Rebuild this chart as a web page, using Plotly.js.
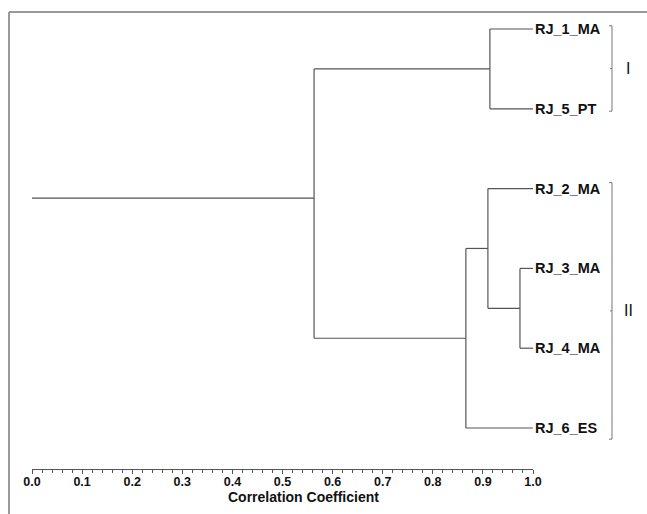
<!DOCTYPE html>
<html>
<head>
<meta charset="utf-8">
<script src="https://cdn.plot.ly/plotly-3.0.1.min.js"></script>
<style>
  html, body { margin: 0; padding: 0; background: #fff; }
  #chart { width: 647px; height: 514px; }
</style>
</head>
<body>
<div id="chart"></div>
<script>
// ---- data ----
const leafLabels = ['RJ_1_MA', 'RJ_5_PT', 'RJ_2_MA', 'RJ_3_MA', 'RJ_4_MA', 'RJ_6_ES'];
const leafOrder = [0, 1, 2, 3, 4, 5];
const leafSimilarity = 1.0;

const nodeNames  = ['n0', 'n1', 'n2', 'n3', 'n4'];
const nodeLeft   = ['RJ_3_MA', 'RJ_2_MA', 'RJ_1_MA', 'n1', 'n2'];
const nodeRight  = ['RJ_4_MA', 'n0', 'RJ_5_PT', 'RJ_6_ES', 'n3'];
const nodeHeight = [0.974, 0.910, 0.914, 0.866, 0.563];
const rootStemPos = 2.12;
const rootStemStart = 0.0;

const clusterNames = ['I', 'II'];
const clusterFirst = ['RJ_1_MA', 'RJ_2_MA'];
const clusterLast  = ['RJ_5_PT', 'RJ_6_ES'];

const xTickStep = 0.1;
const xMinorStep = 0.02;
const xTitle = 'Correlation Coefficient';

// ---- build dendrogram ----
const pos = {}, hgt = {};
leafLabels.forEach((l, i) => { pos[l] = leafOrder[i]; hgt[l] = leafSimilarity; });
const xs = [], ys = [];
nodeNames.forEach((n, i) => {
  const a = nodeLeft[i], b = nodeRight[i], h = nodeHeight[i];
  pos[n] = (pos[a] + pos[b]) / 2; hgt[n] = h;
  xs.push(h, h, null); ys.push(pos[a], pos[b], null);
  xs.push(h, hgt[a], null); ys.push(pos[a], pos[a], null);
  xs.push(h, hgt[b], null); ys.push(pos[b], pos[b], null);
});
const root = nodeNames[nodeNames.length - 1];
xs.push(rootStemStart, hgt[root], null); ys.push(rootStemPos, rootStemPos, null);

// ---- geometry (pixels) ----
const W = 647, H = 514, mL = 32, mR = 114, mB = 45;
const plotW = W - mL - mR, plotH = H - mB;
const px2paperX = p => (p - mL) / plotW;
const px2paperY = p => (plotH - p) / plotH;

const lineColor = '#555';
const FONT = 'Liberation Sans, Arial, sans-serif';
const shapes = [];
// frame
const fx = px2paperX(9), fy = px2paperY(12);
shapes.push({type: 'line', xref: 'paper', yref: 'paper', x0: fx, x1: fx, y0: fy, y1: px2paperY(H + 5), line: {color: '#999', width: 2}});
shapes.push({type: 'line', xref: 'paper', yref: 'paper', x0: fx, x1: px2paperX(W + 5), y0: fy, y1: fy, line: {color: '#999', width: 2}});

const annotations = [];
leafLabels.forEach((l, i) => {
  annotations.push({x: leafSimilarity, y: leafOrder[i], xref: 'x', yref: 'y', text: l, showarrow: false,
    xanchor: 'left', yanchor: 'middle', xshift: 0,
    font: {family: FONT, size: 14.5, color: '#111', weight: 'bold'}});
});

const bx = px2paperX(612), hook = 3 / plotW, nub = 2 / plotW;
const padTop = [0.04, 0.075], padBot = [0.03, 0.14];
clusterNames.forEach((c, i) => {
  const y0 = pos[clusterFirst[i]] - padTop[i], y1 = pos[clusterLast[i]] + padBot[i];
  const ym = (y0 + y1) / 2;
  const st = {color: '#777', width: 1};
  shapes.push({type: 'line', xref: 'paper', yref: 'y', x0: bx, x1: bx, y0: y0, y1: y1, line: st});
  shapes.push({type: 'line', xref: 'paper', yref: 'y', x0: bx - hook, x1: bx, y0: y0, y1: y0, line: st});
  shapes.push({type: 'line', xref: 'paper', yref: 'y', x0: bx - hook, x1: bx, y0: y1, y1: y1, line: st});
  shapes.push({type: 'line', xref: 'paper', yref: 'y', x0: bx - nub, x1: bx, y0: ym, y1: ym, line: st});
  annotations.push({x: px2paperX(628), y: ym, xref: 'paper', yref: 'y', text: c, showarrow: false,
    xanchor: 'center', yanchor: 'middle',
    font: {family: FONT, size: 16, color: '#111'}});
});

annotations.push({x: px2paperX(303), y: px2paperY(497), xref: 'paper', yref: 'paper', text: xTitle,
  showarrow: false, xanchor: 'center', yanchor: 'middle',
  font: {family: FONT, size: 14, color: '#111', weight: 'bold'}});

const trace = {x: xs, y: ys, type: 'scatter', mode: 'lines',
  line: {color: lineColor, width: 1.2}, hoverinfo: 'skip', showlegend: false};

// y mapping: leaf i at pixel 29 + 79.8*i
const yTop = -29 / 79.8, yBot = (plotH - 29) / 79.8;

const layout = {
  width: W, height: H,
  margin: {l: mL, r: mR, t: 0, b: mB, pad: 0},
  paper_bgcolor: '#fff', plot_bgcolor: '#fff',
  showlegend: false,
  xaxis: {
    range: [0, 1], showgrid: false, zeroline: false,
    showline: true, linecolor: lineColor, linewidth: 1,
    ticks: 'outside', ticklen: 4, tickwidth: 1, tickcolor: lineColor,
    tick0: 0, dtick: xTickStep, tickformat: '.1f', ticklabelstandoff: -3,
    minor: {ticks: 'outside', dtick: xMinorStep, tick0: 0, ticklen: 2.5, tickwidth: 1, tickcolor: lineColor, showgrid: false},
    tickfont: {family: FONT, size: 12.5, color: '#111', weight: 'bold'},
    fixedrange: true
  },
  yaxis: {range: [yBot, yTop], visible: false, showgrid: false, zeroline: false, fixedrange: true},
  shapes: shapes,
  annotations: annotations
};

Plotly.newPlot('chart', [trace], layout, {displayModeBar: false, staticPlot: true});
</script>
</body>
</html>
